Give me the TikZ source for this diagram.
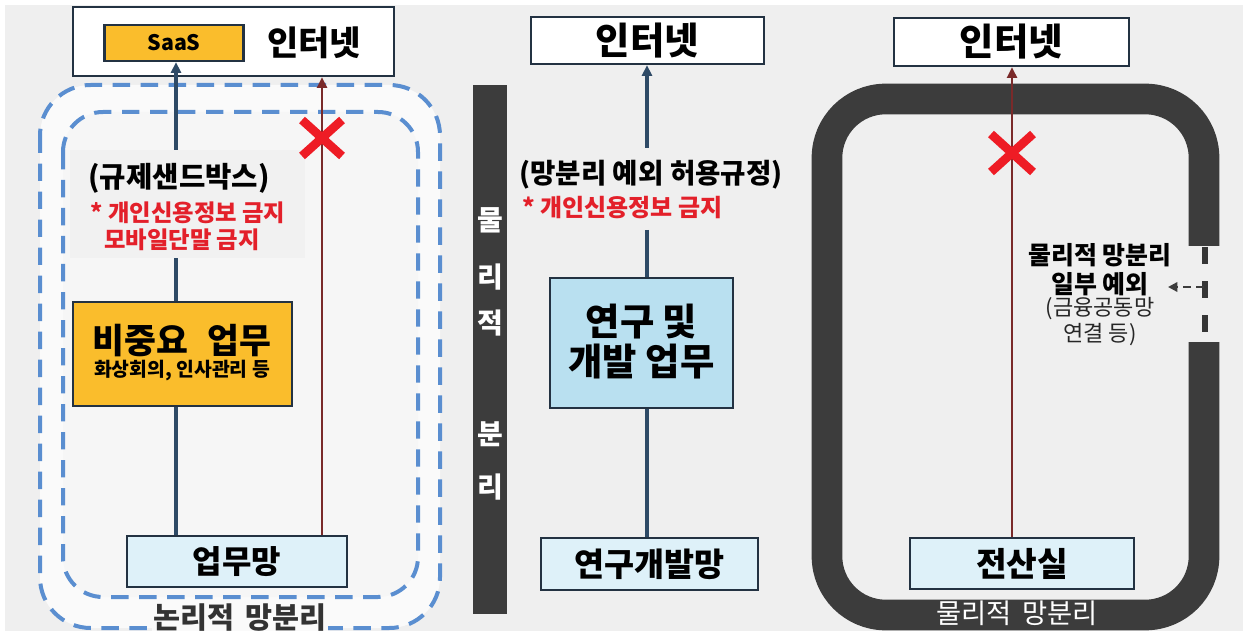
\documentclass[tikz,border=0pt]{standalone}
\usepackage{fontspec}
\setmainfont{Noto Sans CJK KR}
\usetikzlibrary{arrows.meta,calc}
\definecolor{bg}{HTML}{EFEFEF}
\definecolor{bord}{HTML}{233242}
\definecolor{navyln}{HTML}{2E4A66}
\definecolor{brownln}{HTML}{7A2A2A}
\definecolor{xred}{HTML}{EE1C25}
\definecolor{tred}{HTML}{E3202A}
\definecolor{orng}{HTML}{FABD2C}
\definecolor{lblue}{HTML}{DEF1F9}
\definecolor{mblue}{HTML}{B9E0F0}
\definecolor{dashblue}{HTML}{5A8ED0}
\definecolor{darkbar}{HTML}{3C3C3C}
\definecolor{panelgray}{HTML}{F1F1F1}
\tikzset{
  boxstyle/.style={draw=bord, line width=1.8pt, inner sep=0pt, font=\bfseries},
  navarrow/.style={draw=navyln, line width=2.3pt, -{Triangle[length=8pt,width=7.5pt]}},
  navline/.style={draw=navyln, line width=2.3pt},
  brarrow/.style={draw=brownln, line width=1.6pt, -{Triangle[length=8pt,width=7.5pt]}},
  xmark/.style={draw=xred, line width=6.5pt},
  bluedash/.style={draw=dashblue, line width=3pt, dash pattern=on 13pt off 8pt},
}
\begin{document}
\begin{tikzpicture}[x=0.75pt,y=-0.75pt]
\useasboundingbox (0,0) rectangle (1243,631);
\fill[white] (0,0) rectangle (1243,631);
\fill[bg] (5,5) rectangle (1243,631);

% ---------------- Left panel ----------------
\fill[white!70!bg, rounded corners=38pt] (40,85) rectangle (440,628);
\fill[white!45!bg, rounded corners=30pt] (63,112) rectangle (418,597);
\draw[bluedash, rounded corners=38pt] (40,85) rectangle (440,628);
\draw[bluedash, rounded corners=30pt] (63,112) rectangle (418,597);

\node[boxstyle, fill=white, minimum width=240.75pt, minimum height=51.75pt] (inetA) at (233.5,41.5) {};
\node[boxstyle, fill=orng, minimum width=104.25pt, minimum height=27pt, font=\bfseries\fontsize{16}{16}\selectfont] (saas) at (174,43) {SaaS};
\node[font=\bfseries\fontsize{25.5}{25.5}\selectfont] (inetAt) at (314,43) {인터넷};

\node[fill=panelgray, minimum width=176.25pt, minimum height=81pt, inner sep=0pt] (sandbox) at (187.5,204) {};
\node[font=\bfseries\fontsize{21.5}{21.5}\selectfont] (sbt) at (179,178) {(규제샌드박스)};
\node[font=\bfseries\fontsize{17.5}{17.5}\selectfont, text=tred] (sbr1) at (188,213) {* 개인신용정보 금지};
\node[font=\bfseries\fontsize{17.5}{17.5}\selectfont, text=tred] (sbr2) at (182,240) {모바일단말 금지};

\node[boxstyle, fill=orng, minimum width=164.25pt, minimum height=78pt] (nonimp) at (182.5,354) {};
\node[font=\bfseries\fontsize{26}{26}\selectfont] (nonimpt) at (182,341) {비중요\,\, 업무};
\node[font=\bfseries\fontsize{14.5}{14.5}\selectfont] (nonimps) at (182,371) {화상회의, 인사관리 등};

\node[boxstyle, fill=lblue, minimum width=165pt, minimum height=38.25pt, font=\bfseries\fontsize{24}{24}\selectfont] (wm) at (237,561.5) {업무망};

\coordinate (lA) at (176,0);
\coordinate (bA) at (322,0);
\draw[navarrow] (sandbox.north -| lA) -- (saas.south -| lA);
\draw[navline] (sandbox.south -| lA) -- (nonimp.north -| lA);
\draw[navline] (nonimp.south -| lA) -- (wm.north -| lA);
\draw[brarrow] (wm.north -| bA) -- (inetA.south -| bA);
\coordinate (xA) at (322,138);
\draw[xmark] ($(xA)+(-20,-18)$) -- ($(xA)+(20,18)$);
\draw[xmark] ($(xA)+(-20,18)$) -- ($(xA)+(20,-18)$);

\node[fill=white!70!bg, inner sep=1pt, text=black!80, font=\bfseries\fontsize{22}{22}\selectfont] (logic) at (240,618) {논리적\, 망분리};

% ---------------- Middle panel ----------------
\fill[darkbar] (473,85) rectangle (507,614);
\foreach \ch/\yy in {물/220, 리/277, 적/323, 분/434, 리/487}
  \node[text=white, font=\bfseries\fontsize{21}{21}\selectfont] at (490,\yy) {\ch};

\node[boxstyle, fill=white, minimum width=174.75pt, minimum height=35.25pt, font=\bfseries\fontsize{28}{28}\selectfont] (inetB) at (647.5,40.5) {인터넷};
\node[font=\bfseries\fontsize{20.7}{20.7}\selectfont] (exc) at (651,175) {(망분리 예외 허용규정)};
\node[anchor=west, inner sep=0pt, font=\bfseries\fontsize{18}{18}\selectfont, text=tred] (excr) at (522,208) {* 개인신용정보 금지};
\node[boxstyle, fill=mblue, minimum width=137.25pt, minimum height=97.5pt] (rnd) at (641.5,343) {};
\node[font=\bfseries\fontsize{28}{28}\selectfont] (rnd1) at (641.5,322) {연구 및};
\node[font=\bfseries\fontsize{28}{28}\selectfont] (rnd2) at (641.5,362) {개발 업무};
\node[boxstyle, fill=lblue, minimum width=162.75pt, minimum height=39pt, font=\bfseries\fontsize{24.5}{24.5}\selectfont] (rndnet) at (649.5,564) {연구개발망};

\coordinate (lB) at (647,0);
\coordinate (excTop) at (647,148);
\coordinate (excBot) at (647,230);
\draw[navarrow] (excTop) -- (inetB.south -| lB);
\draw[navline] (excBot) -- (rnd.north -| lB);
\draw[navline] (rnd.south -| lB) -- (rndnet.north -| lB);

% ---------------- Right panel ----------------
\draw[darkbar, line width=23pt, rounded corners=44pt, line cap=butt]
  (1204,246) -- (1204,99) -- (827,99) -- (827,615) -- (1204,615) -- (1204,342);
\draw[darkbar!90!black, line width=4pt, dash pattern=on 12.5pt off 13pt] (1205,247) -- (1205,334);

\node[boxstyle, fill=white, minimum width=176.25pt, minimum height=36pt, font=\bfseries\fontsize{28}{28}\selectfont] (inetC) at (1011.5,42) {인터넷};
\node[boxstyle, fill=lblue, minimum width=168pt, minimum height=38.25pt, font=\bfseries\fontsize{25}{25}\selectfont] (dc) at (1022,563.5) {전산실};
\coordinate (bC) at (1012,0);
\draw[brarrow] (dc.north -| bC) -- (inetC.south -| bC);
\coordinate (xC) at (1012,153);
\draw[xmark] ($(xC)+(-21,-19)$) -- ($(xC)+(21,19)$);
\draw[xmark] ($(xC)+(-21,19)$) -- ($(xC)+(21,-19)$);

\node[align=center, font=\bfseries\fontsize{18.7}{22}\selectfont] (excp) at (1100,270) {물리적 망분리\\일부 예외};
\node[align=center, font=\fontsize{16.5}{19.5}\selectfont, text=black!85] (excps) at (1100,322) {(금융공동망\\연결 등)};
\coordinate (gapPt) at (1204,287);
\draw[darkbar, line width=2.2pt, dash pattern=on 6pt off 4pt, -{Triangle[length=7pt,width=7pt]}] (gapPt) -- (1168,287);

\node[text=white, font=\fontsize{20.5}{20.5}\selectfont] (phys) at (1017,613) {물리적\, 망분리};
\end{tikzpicture}
\end{document}
